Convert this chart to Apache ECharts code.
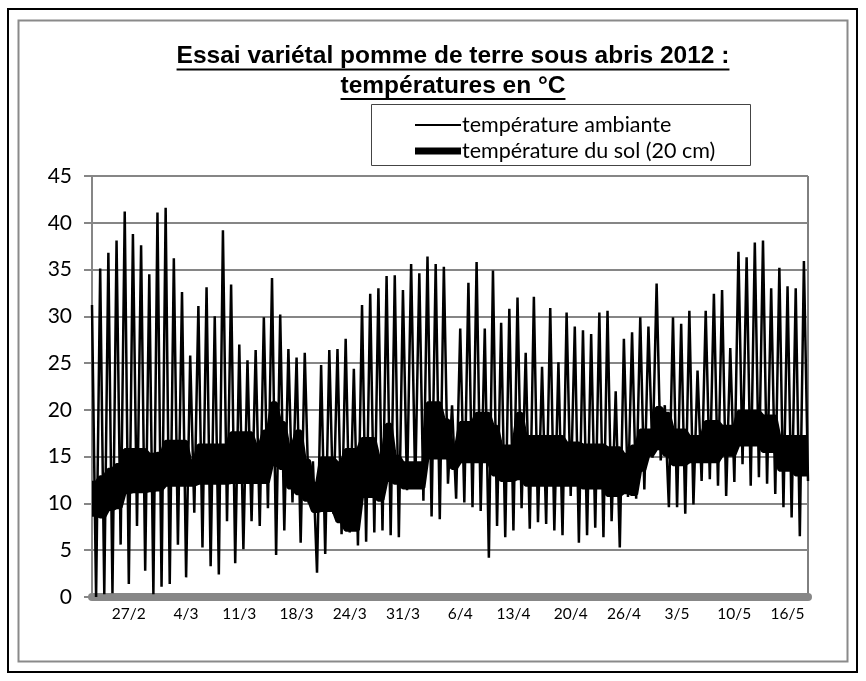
<!DOCTYPE html>
<html><head><meta charset="utf-8">
<script src="https://cdn.jsdelivr.net/npm/echarts@6/dist/echarts.min.js"></script>
<style>html,body{margin:0;padding:0;background:#fff}#c{width:866px;height:681px}</style>
</head><body><div id="c"></div>
<script>
// ---- data ----
const titleLines = ['Essai variétal pomme de terre sous abris 2012 :', 'températures en °C'];
const seriesNames = ['température ambiante', 'température du sol (20 cm)'];
// daily maximum / minimum of ambient temperature (°C)
const ambientMax = [31.2,35.1,36.8,38.1,41.2,38.8,37.6,34.5,41.1,41.6,36.2,32.6,25.8,31.1,33.1,30.0,39.2,33.4,27.0,25.3,
  26.4,29.9,34.1,30.2,26.5,25.6,26.1,14.5,24.8,26.4,26.5,27.6,24.4,31.2,32.4,33.0,34.3,34.4,32.8,35.6,
  34.6,36.4,35.6,35.3,20.5,28.7,33.6,35.8,28.7,34.9,29.3,30.8,32.0,26.1,32.1,24.6,30.9,25.1,30.4,28.9,
  28.5,28.1,30.4,30.6,22.0,27.6,28.3,29.9,28.9,33.5,20.5,29.9,29.2,30.6,24.2,30.6,32.4,32.8,26.6,36.9,
  36.3,37.9,38.1,33.0,35.2,33.2,33.0,35.9];
const ambientMin = [0.0,0.3,0.4,5.6,1.4,7.6,2.8,0.3,1.1,1.4,5.6,2.1,9.0,5.3,3.3,2.4,8.1,3.6,5.1,8.1,
  7.6,9.5,4.5,7.1,10.1,5.8,10.0,2.6,4.6,8.9,6.7,6.9,5.5,5.9,6.9,7.1,6.6,6.4,11.4,11.8,
  10.3,8.6,8.3,12.1,10.5,10.1,9.6,9.2,4.2,7.6,6.4,7.1,9.5,7.3,8.0,7.8,7.1,6.6,10.8,5.8,
  6.6,7.4,6.4,8.1,5.3,10.7,10.5,11.5,14.9,14.6,9.6,9.6,8.9,9.9,12.4,12.6,11.9,10.8,12.3,14.2,
  11.9,12.8,12.1,11.0,9.6,8.5,6.5,12.4];
// daily maximum / minimum of soil temperature at 20 cm (°C)
const soilMax = [12.2,12.8,13.6,14.1,15.7,15.7,15.7,15.2,15.3,16.6,16.6,16.6,14.5,16.2,16.2,16.2,16.2,17.5,17.5,17.5,
  16.2,17.7,20.7,18.6,16.1,17.7,14.6,12.1,14.8,14.8,14.3,15.7,15.7,16.9,16.9,15.0,18.4,15.0,14.3,14.3,
  14.3,20.7,20.7,18.9,16.1,18.6,18.6,19.6,19.6,18.2,16.1,16.1,19.6,17.1,17.1,17.1,17.1,17.1,16.4,16.4,
  16.2,16.2,16.2,15.9,15.9,15.2,16.1,17.8,17.8,20.2,19.6,17.8,17.8,17.1,17.1,18.7,18.7,18.2,18.2,19.8,
  19.8,19.8,19.3,19.3,17.1,17.1,17.1,17.1];
const soilMin = [8.8,8.6,9.4,9.6,11.2,11.3,11.3,11.4,11.5,12.0,12.0,12.0,12.0,12.2,12.2,12.2,12.2,12.3,12.3,12.3,
  12.3,12.3,14.2,13.8,11.7,11.1,10.4,9.2,9.3,9.3,8.1,7.2,7.2,10.8,10.8,10.4,12.5,12.2,11.7,11.7,
  11.7,14.9,14.9,14.9,13.8,14.5,14.5,14.5,14.5,13.1,12.5,12.5,12.7,12.0,12.0,12.0,12.0,12.0,12.0,12.0,
  11.7,11.7,11.7,10.9,10.9,11.2,11.0,13.6,15.2,15.9,15.2,14.2,14.2,14.5,14.5,14.5,14.5,15.2,15.2,16.3,
  16.3,16.3,15.6,15.6,13.6,13.6,13.1,13.1];
const tickLabels = ['27/2','4/3','11/3','18/3','24/3','31/3','6/4','13/4','20/4','26/4','3/5','10/5','16/5'];
const tickIndex = [9,23,36,50,63,76,90,103,117,130,143,157,170];
const yMin = 0, yMax = 45, yStep = 5;

// ---- build series (two readings per day: afternoon max, night min) ----
const ambient = [], soilLow = [], soilRange = [], cats = [];
const start = new Date(2012, 1, 22, 14);
for (let d = 0; d < ambientMax.length; d++) {
  ambient.push(ambientMax[d], ambientMin[d]);
  for (let h = 0; h < 2; h++) {
    soilLow.push(soilMin[d]);
    soilRange.push(+(soilMax[d] - soilMin[d]).toFixed(2));
    const t = new Date(start.getTime() + (d * 2 + h) * 12 * 3600 * 1000);
    cats.push(t.getDate() + '/' + (t.getMonth() + 1) + ' ' + t.getHours() + 'h');
  }
}

const chart = echarts.init(document.getElementById('c'), null, {renderer: 'canvas'});
const FONT = 'Lato, "Open Sans", sans-serif';
const titleFont = 'bold 24.5px "Liberation Sans", Arial, sans-serif';
const TCX = 453;
function textW(txt, font) {
  const t = new echarts.graphic.Text({style: {text: txt, font: font}});
  return t.getBoundingRect().width;
}
const w1 = textW(titleLines[0], titleFont), w2 = textW(titleLines[1], titleFont);

chart.setOption({
  animation: false,
  backgroundColor: '#fff',
  grid: {left: 92, right: 58, top: 176, bottom: 84, show: true, borderColor: '#000', borderWidth: 1, backgroundColor: 'transparent'},
  xAxis: {
    type: 'category', data: cats, boundaryGap: false,
    axisLine: {show: true, lineStyle: {color: '#878787', width: 8}},
    axisTick: {show: false},
    splitLine: {show: false},
    axisLabel: {
      interval: (i) => tickIndex.indexOf(i) >= 0,
      formatter: (v) => { const k = tickIndex.indexOf(cats.indexOf(v)); return k >= 0 ? tickLabels[k] : ''; },
      color: '#000', fontFamily: FONT, fontSize: 15.5, margin: 9
    }
  },
  yAxis: {
    type: 'value', min: yMin, max: yMax, interval: yStep,
    axisLine: {show: true, lineStyle: {color: '#868686', width: 2}},
    axisTick: {show: true, inside: false, length: 8, lineStyle: {color: '#868686', width: 2}},
    splitLine: {show: true, lineStyle: {color: '#868686', width: 2}},
    axisLabel: {color: '#000', fontFamily: FONT, fontSize: 21, margin: 20}
  },
  series: [
    {name: seriesNames[0], type: 'line', data: ambient, symbol: 'none', lineStyle: {color: '#000', width: 2.5}, z: 3},
    {name: seriesNames[1] + ' min', type: 'line', data: soilLow, stack: 'soil', symbol: 'none',
      lineStyle: {color: '#000', width: 4}, z: 4},
    {name: seriesNames[1], type: 'line', data: soilRange, stack: 'soil', symbol: 'none',
      lineStyle: {color: '#000', width: 4}, areaStyle: {color: '#000', opacity: 1}, z: 4}
  ],
  graphic: [
    {type: 'rect', shape: {x: 8, y: 9, width: 849, height: 663}, style: {fill: 'none', stroke: '#000', lineWidth: 2}, silent: true},
    {type: 'rect', shape: {x: 18.5, y: 20.5, width: 829, height: 641}, style: {fill: 'none', stroke: '#8a8a8a', lineWidth: 2}, silent: true},
    {type: 'text', x: TCX, y: 56, style: {text: titleLines[0], font: titleFont, fill: '#000', align: 'center', verticalAlign: 'middle'}},
    {type: 'text', x: TCX, y: 86, style: {text: titleLines[1], font: titleFont, fill: '#000', align: 'center', verticalAlign: 'middle'}},
    {type: 'line', shape: {x1: TCX - w1 / 2, y1: 69.5, x2: TCX + w1 / 2, y2: 69.5}, style: {stroke: '#000', lineWidth: 2}},
    {type: 'line', shape: {x1: TCX - w2 / 2, y1: 99, x2: TCX + w2 / 2, y2: 99}, style: {stroke: '#000', lineWidth: 2}},
    {type: 'rect', shape: {x: 371.5, y: 104.5, width: 379, height: 61}, style: {fill: '#fff', stroke: '#444', lineWidth: 1}},
    {type: 'line', shape: {x1: 415, y1: 125, x2: 461, y2: 125}, style: {stroke: '#000', lineWidth: 2}},
    {type: 'line', shape: {x1: 415, y1: 151, x2: 461, y2: 151}, style: {stroke: '#000', lineWidth: 7}},
    {type: 'text', x: 462, y: 125, style: {text: seriesNames[0], font: '21.5px ' + FONT, fill: '#000', verticalAlign: 'middle'}},
    {type: 'text', x: 462, y: 151, style: {text: seriesNames[1], font: '21.5px ' + FONT, fill: '#000', verticalAlign: 'middle'}}
  ]
});
</script>
</body></html>
